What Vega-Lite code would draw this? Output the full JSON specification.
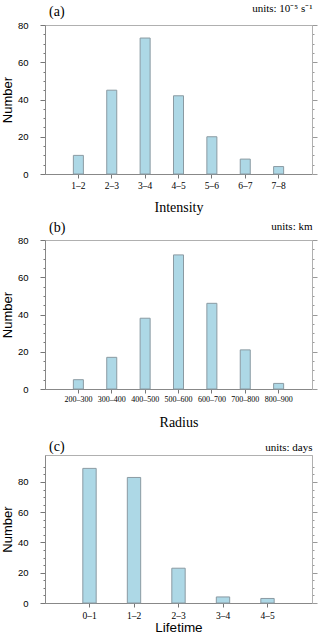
{
  "$schema": "https://vega.github.io/schema/vega-lite/v6.json",
  "padding": {"left": 0, "top": 1, "right": 0, "bottom": 0},
  "background": "white",
  "config": {
    "view": {"stroke": "#b0b0b0", "strokeWidth": 1},
    "axis": {"grid": false, "labelColor": "black", "titleColor": "black", "titleFontWeight": "normal"},
    "title": {"font": "Liberation Serif", "fontSize": 14, "fontWeight": "normal", "anchor": "start", "frame": "group", "color": "black"}
  },
  "spacing": 66,
  "bounds": "flush",
  "vconcat": [
    {
      "width": 267, "height": 149,
      "title": {"text": "(a)", "dx": 4, "offset": -17},
      "data": {"values": [
        {"bin": "1–2", "count": 10}, {"bin": "2–3", "count": 45}, {"bin": "3–4", "count": 73},
        {"bin": "4–5", "count": 42}, {"bin": "5–6", "count": 20}, {"bin": "6–7", "count": 8}, {"bin": "7–8", "count": 4}
      ]},
      "layer": [
        {
          "mark": {"type": "bar", "fill": "#ADD8E6", "stroke": "#8a9aa2", "strokeWidth": 1},
          "encoding": {
            "x": {"field": "bin", "type": "ordinal", "sort": null, "scale": {"paddingInner": 0.7, "paddingOuter": 0.85},
              "axis": {"orient": "bottom", "labelAngle": 0, "tickSize": 4, "tickColor": "#777", "domainColor": "#888", "labelFont": "Liberation Serif", "labelFontSize": 9.5, "labelPadding": 2, "title": "Intensity", "titleFont": "Liberation Serif", "titleFontSize": 14, "titlePadding": 11}},
            "y": {"field": "count", "type": "quantitative", "scale": {"domain": [0, 80], "nice": false},
              "axis": {"orient": "left", "values": [0,5,10,15,20,25,30,35,40,45,50,55,60,65,70,75,80], "labelExpr": "datum.value % 20 === 0 ? datum.label : ''", "tickSize": {"condition": {"test": "datum.value % 20 === 0", "value": 5}, "value": 2}, "tickColor": "#777", "domainColor": "#888", "labelFont": "Liberation Sans", "labelFontSize": 9.5, "labelPadding": 12, "title": "Number", "titleFont": "Liberation Sans", "titleFontSize": 13, "titlePadding": 3}}
          }
        },
        {
          "mark": {"type": "bar", "opacity": 0},
          "encoding": {
            "x": {"field": "bin", "type": "ordinal", "sort": null,
              "axis": {"orient": "top", "labels": false, "ticks": false, "domain": false, "title": "units: 10⁻⁵ s⁻¹", "titleAnchor": "end", "titleFont": "Liberation Serif", "titleFontSize": 11, "titleFontWeight": "normal", "titlePadding": 12}},
            "y": {"field": "count", "type": "quantitative",
              "axis": {"orient": "right", "values": [0,5,10,15,20,25,30,35,40,45,50,55,60,65,70,75,80], "labels": false, "tickSize": {"condition": {"test": "datum.value % 20 === 0", "value": 5}, "value": 2}, "tickColor": "#999", "domainColor": "#b0b0b0", "title": null}}
          }
        }
      ],
      "resolve": {"axis": {"x": "independent", "y": "independent"}}
    },
    {
      "width": 267, "height": 149,
      "title": {"text": "(b)", "dx": 4, "offset": -15},
      "data": {"values": [
        {"bin": "200–300", "count": 5}, {"bin": "300–400", "count": 17}, {"bin": "400–500", "count": 38},
        {"bin": "500–600", "count": 72}, {"bin": "600–700", "count": 46}, {"bin": "700–800", "count": 21}, {"bin": "800–900", "count": 3}
      ]},
      "layer": [
        {
          "mark": {"type": "bar", "fill": "#ADD8E6", "stroke": "#8a9aa2", "strokeWidth": 1},
          "encoding": {
            "x": {"field": "bin", "type": "ordinal", "sort": null, "scale": {"paddingInner": 0.7, "paddingOuter": 0.85},
              "axis": {"orient": "bottom", "labelAngle": 0, "tickSize": 4, "tickColor": "#777", "domainColor": "#888", "labelFont": "Liberation Serif", "labelFontSize": 8, "labelPadding": 2, "labelOverlap": false, "title": "Radius", "titleFont": "Liberation Serif", "titleFontSize": 14, "titlePadding": 12}},
            "y": {"field": "count", "type": "quantitative", "scale": {"domain": [0, 80], "nice": false},
              "axis": {"orient": "left", "values": [0,5,10,15,20,25,30,35,40,45,50,55,60,65,70,75,80], "labelExpr": "datum.value % 20 === 0 ? datum.label : ''", "tickSize": {"condition": {"test": "datum.value % 20 === 0", "value": 5}, "value": 2}, "tickColor": "#777", "domainColor": "#888", "labelFont": "Liberation Sans", "labelFontSize": 9.5, "labelPadding": 12, "title": "Number", "titleFont": "Liberation Sans", "titleFontSize": 13, "titlePadding": 3}}
          }
        },
        {
          "mark": {"type": "bar", "opacity": 0},
          "encoding": {
            "x": {"field": "bin", "type": "ordinal", "sort": null,
              "axis": {"orient": "top", "labels": false, "ticks": false, "domain": false, "title": "units: km", "titleAnchor": "end", "titleFont": "Liberation Serif", "titleFontSize": 11, "titleFontWeight": "normal", "titlePadding": 9}},
            "y": {"field": "count", "type": "quantitative",
              "axis": {"orient": "right", "values": [0,5,10,15,20,25,30,35,40,45,50,55,60,65,70,75,80], "labels": false, "tickSize": {"condition": {"test": "datum.value % 20 === 0", "value": 5}, "value": 2}, "tickColor": "#999", "domainColor": "#b0b0b0", "title": null}}
          }
        }
      ],
      "resolve": {"axis": {"x": "independent", "y": "independent"}}
    },
    {
      "width": 267, "height": 148,
      "title": {"text": "(c)", "dx": 4, "offset": -13},
      "data": {"values": [
        {"bin": "0–1", "count": 89}, {"bin": "1–2", "count": 83}, {"bin": "2–3", "count": 23}, {"bin": "3–4", "count": 4}, {"bin": "4–5", "count": 3}
      ]},
      "layer": [
        {
          "mark": {"type": "bar", "fill": "#ADD8E6", "stroke": "#8a9aa2", "strokeWidth": 1},
          "encoding": {
            "x": {"field": "bin", "type": "ordinal", "sort": null, "scale": {"paddingInner": 0.7, "paddingOuter": 0.85},
              "axis": {"orient": "bottom", "labelAngle": 0, "tickSize": 4, "tickColor": "#777", "domainColor": "#888", "labelFont": "Liberation Serif", "labelFontSize": 9.5, "labelPadding": 3, "title": "Lifetime", "titleFont": "Liberation Sans", "titleFontSize": 13.5, "titlePadding": 1}},
            "y": {"field": "count", "type": "quantitative", "scale": {"domain": [0, 97.85], "nice": false},
              "axis": {"orient": "left", "values": [0,5,10,15,20,25,30,35,40,45,50,55,60,65,70,75,80,85,90], "labelExpr": "datum.value % 20 === 0 ? datum.label : ''", "tickSize": {"condition": {"test": "datum.value % 20 === 0", "value": 5}, "value": 2}, "tickColor": "#777", "domainColor": "#888", "labelFont": "Liberation Sans", "labelFontSize": 9.5, "labelPadding": 12, "title": "Number", "titleFont": "Liberation Sans", "titleFontSize": 13, "titlePadding": 3}}
          }
        },
        {
          "mark": {"type": "bar", "opacity": 0},
          "encoding": {
            "x": {"field": "bin", "type": "ordinal", "sort": null,
              "axis": {"orient": "top", "labels": false, "ticks": false, "domain": false, "title": "units: days", "titleAnchor": "end", "titleFont": "Liberation Serif", "titleFontSize": 11, "titleFontWeight": "normal", "titlePadding": 3}},
            "y": {"field": "count", "type": "quantitative",
              "axis": {"orient": "right", "values": [0,5,10,15,20,25,30,35,40,45,50,55,60,65,70,75,80,85,90], "labels": false, "tickSize": {"condition": {"test": "datum.value % 20 === 0", "value": 5}, "value": 2}, "tickColor": "#999", "domainColor": "#b0b0b0", "title": null}}
          }
        }
      ],
      "resolve": {"axis": {"x": "independent", "y": "independent"}}
    }
  ]
}
